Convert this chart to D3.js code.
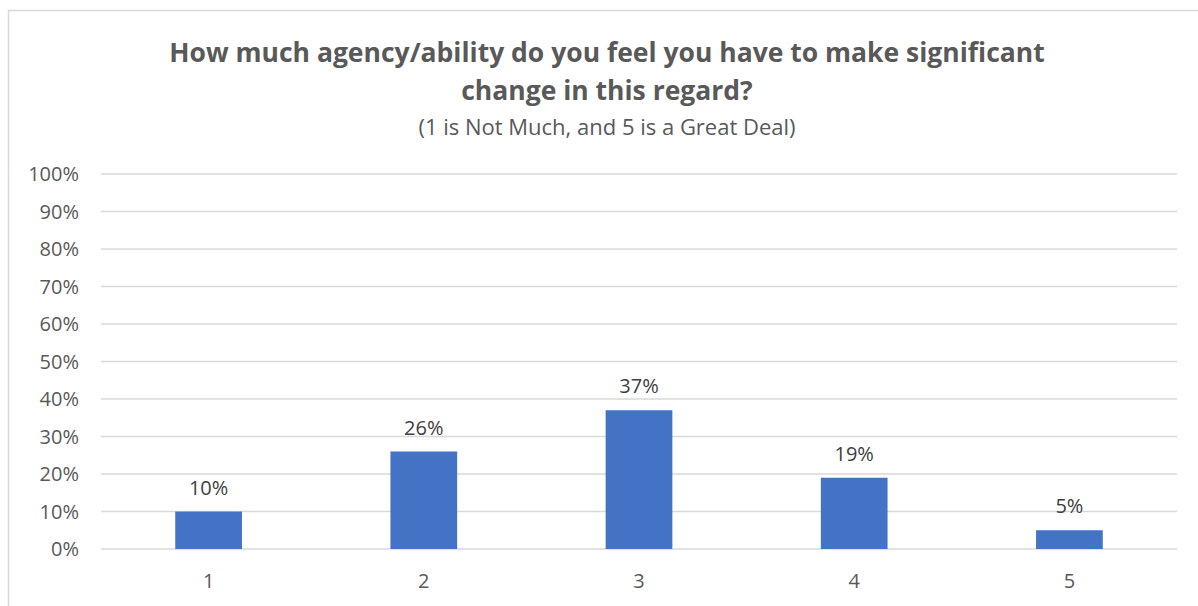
<!DOCTYPE html>
<html>
<head>
<meta charset="utf-8">
<script src="https://cdn.jsdelivr.net/npm/d3@7"></script>
<style>
  body { margin: 0; background: #fff; }
  svg text { font-family: "Open Sans", "Noto Sans", sans-serif; fill: #595959; }
</style>
</head>
<body>
<div id="chart"></div>
<script>
var categories = ["1", "2", "3", "4", "5"];
var values = [0.10, 0.26, 0.37, 0.19, 0.05];
var yTicks = [0, 0.1, 0.2, 0.3, 0.4, 0.5, 0.6, 0.7, 0.8, 0.9, 1.0];
var titleLines = ["How much agency/ability do you feel you have to make significant", "change in this regard?"];
var subtitle = "(1 is Not Much, and 5 is a Great Deal)";

var w = 1198, h = 606;
var margin = { top: 174, right: 21, bottom: 57, left: 101 };

var svg = d3.select("#chart").append("svg")
    .attr("width", w)
    .attr("height", h);

// chart border (right and bottom sit outside the picture)
svg.append("rect")
    .attr("x", 8.5).attr("y", 10.5)
    .attr("width", w + 20).attr("height", h + 20)
    .attr("fill", "none")
    .attr("stroke", "#d9d9d9")
    .attr("stroke-width", 1.5);

var x = d3.scaleBand()
    .domain(categories)
    .range([margin.left, w - margin.right])
    .paddingInner(0.69)
    .paddingOuter(0.345);

var y = d3.scaleLinear()
    .domain([0, 1])
    .range([h - margin.bottom, margin.top]);

// gridlines
svg.append("g").selectAll("line")
    .data(yTicks)
    .enter().append("line")
    .attr("x1", margin.left).attr("x2", w - margin.right)
    .attr("y1", function (d) { return y(d); })
    .attr("y2", function (d) { return y(d); })
    .attr("stroke", "#d9d9d9")
    .attr("stroke-width", 1.5);

var fmt = d3.format(".0%");

// y axis labels
svg.append("g").selectAll("text")
    .data(yTicks)
    .enter().append("text")
    .attr("x", 79)
    .attr("y", function (d) { return y(d); })
    .attr("dy", "0.36em")
    .attr("text-anchor", "end")
    .style("font-size", "20px")
    .text(fmt);

// bars
svg.append("g").selectAll("rect")
    .data(values)
    .enter().append("rect")
    .attr("x", function (d, i) { return x(categories[i]); })
    .attr("y", function (d) { return y(d); })
    .attr("width", x.bandwidth())
    .attr("height", function (d) { return y(0) - y(d); })
    .attr("fill", "#4472c4");

// data labels
svg.append("g").selectAll("text")
    .data(values)
    .enter().append("text")
    .attr("x", function (d, i) { return x(categories[i]) + x.bandwidth() / 2; })
    .attr("y", function (d) { return y(d) - 17; })
    .attr("text-anchor", "middle")
    .style("font-size", "20px")
    .style("fill", "#404040")
    .text(fmt);

// x axis labels
svg.append("g").selectAll("text")
    .data(categories)
    .enter().append("text")
    .attr("x", function (d) { return x(d) + x.bandwidth() / 2; })
    .attr("y", 588)
    .attr("text-anchor", "middle")
    .style("font-size", "20px")
    .text(function (d) { return d; });

// title
svg.append("g").selectAll("text")
    .data(titleLines)
    .enter().append("text")
    .attr("x", 607)
    .attr("y", function (d, i) { return 62 + i * 38; })
    .attr("text-anchor", "middle")
    .style("font-size", "26.5px")
    .style("font-weight", "bold")
    .text(function (d) { return d; });

svg.append("text")
    .attr("x", 607)
    .attr("y", 135)
    .attr("text-anchor", "middle")
    .style("font-size", "22px")
    .text(subtitle);
</script>
</body>
</html>
